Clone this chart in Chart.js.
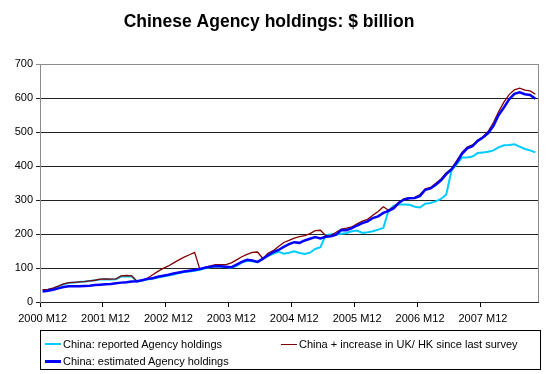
<!DOCTYPE html>
<html>
<head>
<meta charset="utf-8">
<script src="https://cdn.jsdelivr.net/npm/chart.js@4"></script>
<style>
  html, body { margin: 0; padding: 0; background: #fff; }
  #wrap { position: relative; width: 547px; height: 374px; }
  #leyenda {
    position: absolute; left: 40px; top: 330px; width: 501px; height: 40px;
    border: 1px solid #000; box-sizing: border-box;
    font: 11px "Liberation Sans", Arial, sans-serif; color: #000;
  }
  .item { position: absolute; display: flex; align-items: center; white-space: nowrap; height: 14px; }
  .muestra { width: 16px; margin-right: 2px; }
</style>
</head>
<body>
<div id="wrap">
  <canvas id="grafica" width="547" height="374"></canvas>
  <div id="leyenda">
    <div class="item" style="left:4px;top:6px"><span class="muestra" style="height:2px;background:#00ccff"></span>China: reported Agency holdings</div>
    <div class="item" style="left:240px;top:6px"><span class="muestra" style="height:1px;background:#800000"></span>China + increase in UK/ HK since last survey</div>
    <div class="item" style="left:4px;top:23px"><span class="muestra" style="height:3px;background:#0000ff"></span>China: estimated Agency holdings</div>
  </div>
</div>
<script>
// monthly, 2000 M12 .. 2008 M10
const meses = [];
for (let k = 0; k < 95; k++) {
    const m = 11 + k;
    meses.push((2000 + Math.floor(m / 12)) + ' M' + (m % 12 + 1));
}

const reportado = [
    35, 36, 40, 46, 52, 56, 57, 59, 60, 62,
    64, 66, 67, 66, 67, 75, 76, 75, 60, 63,
    66, 69, 72, 75, 78, 81, 85, 88, 90, 92,
    95, 99, 102, 105, 104, 103, 101, 106, 116, 121,
    120, 117, 127, 136, 142, 148, 142, 145, 149, 144,
    141, 145, 156, 161, 196, 199, 199, 201, 203, 208,
    210, 203, 205, 208, 213, 218, 270, 283, 287, 287,
    286, 280, 278, 289, 291, 296, 303, 316, 387, 405,
    425, 425, 428, 438, 440, 442, 446, 455, 461, 462,
    464, 457, 450, 446, 440
];

const conAumento = [
    36, 37, 41, 47, 53, 57, 58, 59, 60, 62,
    64, 67, 68, 67, 68, 77, 78, 77, 61, 64,
    70, 80, 90, 99, 106, 115, 124, 132, 139, 146,
    96, 102, 106, 110, 110, 110, 115, 124, 133, 140,
    146, 147, 128, 143, 151, 163, 175, 181, 188, 192,
    195, 201, 210, 211, 195, 196, 205, 214, 217, 221,
    230, 238, 243, 255, 266, 280, 270, 280, 294, 304,
    307, 308, 316, 333, 337, 349, 362, 380, 392, 416,
    440, 456, 462, 476, 486, 502, 528, 560, 588, 610,
    624, 629, 623, 621, 611
];

const estimado = [
    31, 33, 36, 40, 44, 46, 46, 46, 47, 48,
    50, 51, 52, 53, 55, 57, 58, 60, 61, 64,
    68, 70, 74, 77, 80, 84, 87, 90, 92, 94,
    97, 101, 104, 106, 105, 104, 102, 110, 118, 124,
    122, 118, 127, 137, 147, 153, 162, 170, 176, 174,
    181, 186, 191, 187, 192, 193, 198, 212, 211, 217,
    225, 232, 237, 247, 252, 262, 268, 276, 292, 302,
    305, 306, 312, 330, 334, 345, 358, 376, 390, 410,
    436, 452, 458, 474, 484, 497, 518, 550, 572, 596,
    612, 617, 611, 609, 598
];

const fuente = 'Liberation Sans, Arial, sans-serif';

// gray right edge of the plot area
const marco = {
    id: 'marco',
    afterDraw(chart) {
        const { ctx, chartArea: a } = chart;
        ctx.save();
        ctx.strokeStyle = '#8c8c8c';
        ctx.lineWidth = 1;
        ctx.beginPath();
        ctx.moveTo(a.right + 0.5, a.top);
        ctx.lineTo(a.right + 0.5, a.bottom);
        ctx.stroke();
        ctx.restore();
    }
};

const ctx = document.getElementById('grafica').getContext('2d');
const myChart = new Chart(ctx, {
    type: 'line',
    data: {
        labels: meses,
        datasets: [
            {
                label: 'China: estimated Agency holdings',
                data: estimado,
                borderColor: '#0000ff',
                borderWidth: 2.5,
                order: 0
            },
            {
                label: 'China + increase in UK/ HK since last survey',
                data: conAumento,
                borderColor: '#800000',
                borderWidth: 1.3,
                order: 1
            },
            {
                label: 'China: reported Agency holdings',
                data: reportado,
                borderColor: '#00ccff',
                borderWidth: 2,
                order: 2
            }
        ]
    },
    options: {
        responsive: false,
        animation: false,
        devicePixelRatio: 1,
        elements: {
            point: { radius: 0 },
            line: { tension: 0, fill: false }
        },
        layout: { padding: { left: 0, right: 9, top: 0, bottom: 0 } },
        scales: {
            x: {
                type: 'category',
                offset: true,
                afterFit: s => { s.height = 72; },
                grid: {
                    offset: true,
                    drawOnChartArea: false,
                    tickLength: 5,
                    color: c => (c.index % 12 === 0 ? '#000' : 'rgba(0,0,0,0)')
                },
                border: { color: '#222' },
                ticks: {
                    autoSkip: false,
                    maxRotation: 0,
                    minRotation: 0,
                    padding: 5,
                    color: '#000',
                    font: { family: fuente, size: 11 },
                    callback: function(val, i) {
                        return i % 12 === 0 ? this.getLabelForValue(val) : '';
                    }
                }
            },
            y: {
                min: 0,
                max: 700,
                afterFit: s => { s.width = 40; },
                grid: {
                    tickLength: 4,
                    color: c => (c.tick && c.tick.value === 700 ? '#8c8c8c' : '#222')
                },
                border: { color: '#8c8c8c' },
                ticks: {
                    stepSize: 100,
                    padding: 3,
                    color: '#000',
                    font: { family: fuente, size: 11 }
                }
            }
        },
        plugins: {
            legend: { display: false },
            tooltip: { enabled: false },
            title: {
                display: true,
                text: 'Chinese Agency holdings: $ billion',
                color: '#000',
                font: { family: fuente, size: 17.5, weight: 'bold' },
                padding: { top: 12, bottom: 31 }
            }
        }
    },
    plugins: [marco]
});
</script>
</body>
</html>
